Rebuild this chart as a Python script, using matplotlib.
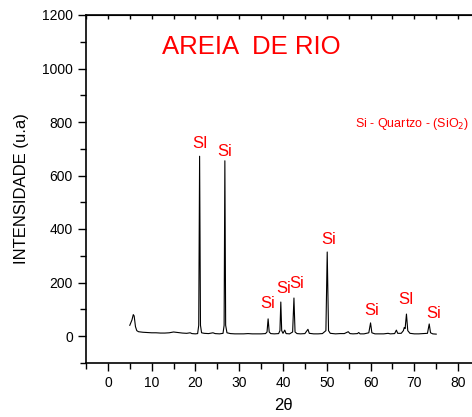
import matplotlib
matplotlib.use("Agg")
import matplotlib.pyplot as plt
from matplotlib.ticker import MultipleLocator

plt.rcParams['font.family'] = ['Liberation Sans', 'DejaVu Sans']

# difratograma (2theta, intensidade)
two_theta = [5.0, 5.5, 5.8, 6.0, 6.3, 6.6, 7.0, 8, 9, 10, 11, 12, 13, 14, 15, 16, 17, 18,
             18.8, 19.2, 20, 20.5, 20.75, 20.95, 21.15, 21.4, 22, 23, 24, 24.5, 25.5,
             26.3, 26.55, 26.72, 26.9, 27.2, 28, 29, 30, 31, 32, 33, 34, 35, 36,
             36.35, 36.6, 36.85, 37.2, 38, 39, 39.3, 39.5, 39.7, 40.0, 40.4, 40.7,
             41.5, 42.2, 42.5, 42.75, 43.2, 44, 45, 45.7, 46.0, 47, 48, 49, 49.8,
             50.1, 50.4, 50.8, 52, 53, 54, 54.9, 55.3, 56, 57, 57.3, 57.6, 58.5,
             59.6, 60.0, 60.3, 61, 62, 63, 64, 64.5, 65.5, 65.9, 66.2, 67.0, 67.5,
             67.7, 67.9, 68.2, 68.5, 69, 70, 71, 72, 73.0, 73.4, 73.7, 74.2, 75]
intensity = [40, 60, 80, 75, 35, 20, 16, 14, 13, 12, 12, 11, 11, 12, 15, 13, 11, 10,
             12, 9, 8, 9, 40, 672, 40, 12, 10, 9, 12, 9, 8,
             10, 40, 655, 40, 12, 9, 8, 8, 8, 9, 8, 8, 8, 9,
             15, 64, 15, 9, 8, 9, 20, 127, 20, 10, 22, 9,
             8, 15, 142, 15, 9, 8, 9, 25, 10, 8, 8, 9, 20,
             314, 20, 10, 8, 9, 9, 16, 9, 8, 9, 13, 8, 8,
             12, 49, 12, 8, 8, 8, 10, 8, 9, 22, 10, 10, 20,
             32, 28, 82, 20, 10, 8, 8, 9, 10, 45, 12, 8, 7]

# rotulos dos picos
peak_labels = ['SI', 'Si', 'Si', 'Si', 'Si', 'Si', 'Si', 'SI', 'Si']
label_x = [20.95, 26.7, 36.6, 40.1, 43.1, 50.4, 60.2, 68.2, 74.4]
label_y = [718, 688, 123, 177, 196, 359, 97, 138, 84]

fig = plt.figure(figsize=(4.72, 4.17), dpi=100)
ax = fig.add_axes([86/472, 1 - 362.75/417, 394/472, (362.75 - 15)/417])

ax.plot(two_theta, intensity, color='black', lw=0.8)

for lab, x, y in zip(peak_labels, label_x, label_y):
    ax.text(x, y, lab, color='red', fontsize=12, ha='center', va='center')

ax.text(32.8, 1080, 'AREIA  DE RIO', color='red', fontsize=18.5, ha='center', va='center')
ax.text(56.4, 793, 'Si - Quartzo - (SiO$_2$)', color='red', fontsize=9, ha='left', va='center')

ax.set_xlim(-5, 85)
ax.set_ylim(-100, 1200)
ax.xaxis.set_major_locator(MultipleLocator(10))
ax.xaxis.set_minor_locator(MultipleLocator(5))
ax.yaxis.set_major_locator(MultipleLocator(200))
ax.yaxis.set_minor_locator(MultipleLocator(100))
ax.tick_params(which='both', direction='out', labelsize=10, color='black')
ax.tick_params(which='major', length=6, width=1)
ax.tick_params(which='minor', length=4, width=1)
ax.spines['right'].set_visible(False)
for s in ['left', 'bottom', 'top']:
    ax.spines[s].set_linewidth(1.2)

# pequenos traços internos no eixo de cima
top = ax.secondary_xaxis('top')
top.xaxis.set_major_locator(MultipleLocator(5))
top.tick_params(direction='in', length=3, width=1, labeltop=False)

ax.set_xlabel('2θ', fontsize=12, labelpad=6)
ax.set_ylabel('INTENSIDADE (u.a)', fontsize=12, labelpad=9)

fig.savefig('out.png', dpi=100)
